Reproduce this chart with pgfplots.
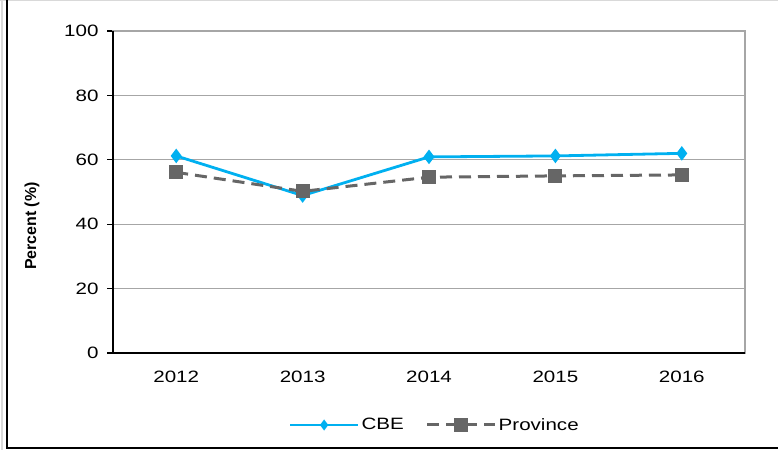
\documentclass[border=0pt]{standalone}
\usepackage{pgfplots}
\pgfplotsset{compat=1.18}
\usepackage{fontspec}
\setmainfont[FakeStretch=1.25]{Liberation Sans}
\newfontfamily\labelfont{Liberation Sans}
\definecolor{cbe}{HTML}{00B0F0}
\definecolor{prov}{HTML}{666666}
\definecolor{gridc}{HTML}{A6A6A6}
\begin{document}
\begin{tikzpicture}[x=1bp,y=1bp]
\useasboundingbox (0,0) rectangle (778,450);
\draw[black!15, line width=1bp] (0,449.5) -- (778,449.5);
\draw[black!15, line width=2bp] (2,0) -- (2,450);
\draw[black, line width=1.6bp] (7,450) -- (7,2) -- (778,2);
\begin{axis}[
  at={(113bp,97bp)}, anchor=south west,
  scale only axis, width=632bp, height=322bp,
  xmin=-0.5, xmax=4.5, ymin=0, ymax=100,
  ytick={0,20,40,60,80,100},
  xtick={0,1,2,3,4},
  xticklabels={2012,2013,2014,2015,2016},
  minor xtick={-0.5,0.5,1.5,2.5,3.5,4.5},
  tick pos=left,
  tick align=outside,
  major tick length=6bp,
  minor tick length=6bp,
  xtick style={draw=none},
  ytick style={black, line width=1.2bp},
  minor x tick style={black, line width=1.2bp},
  ymajorgrids,
  grid style={gridc, line width=1bp},
  axis line style={gridc, line width=1.5bp},
  tick label style={font=\fontsize{16.5}{19}\selectfont},
  /pgf/number format/assume math mode=true,
  xticklabel style={yshift=-9bp},
  yticklabel style={xshift=-5bp},
  every axis y label/.style={at={(rel axis cs:0,0.394)}, xshift=-81bp, rotate=90, anchor=center, font=\labelfont\bfseries\fontsize{16}{19}\selectfont},
  ylabel={Percent (\%)},
  legend style={at={(0.509,-0.2236)}, anchor=center, draw=none, fill=none, legend columns=2,
    font=\fontsize{16.5}{19}\selectfont,
    /tikz/every even column/.append style={column sep=20bp}},
  legend image code/.code={\draw[mark repeat=2,mark phase=2,#1] plot coordinates {(0bp,0bp) (34bp,0bp) (68bp,0bp)};},
  after end axis/.code={
    \draw[black, line width=1.5bp] (rel axis cs:0,1) -- (rel axis cs:0,0) -- (rel axis cs:1,0);
  },
]
\addplot[cbe, line width=2.8bp, mark=diamond*, mark size=5bp, mark options={solid, fill=cbe},
  legend image post style={mark size=3.2bp}]
  coordinates {(0,61.2) (1,48.9) (2,60.9) (3,61.2) (4,62.0)};
\addlegendentry{CBE}
\addplot[prov, line width=3bp, dash pattern=on 12bp off 7bp, mark=square*, mark size=5.5bp, mark options={solid, fill=prov}]
  coordinates {(0,56.1) (1,50.2) (2,54.6) (3,55.0) (4,55.3)};
\addlegendentry{Province}
\end{axis}
\end{tikzpicture}
\end{document}
